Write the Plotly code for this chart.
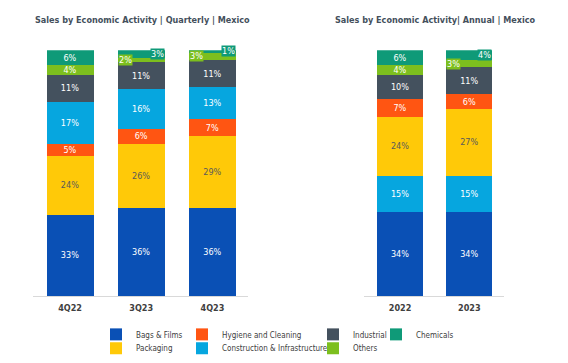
import plotly.graph_objects as go

# ---------------- data ----------------
quarters = ["4Q22", "3Q23", "4Q23"]
years = ["2022", "2023"]

q_bags = [33, 36, 36]
q_packaging = [24, 26, 29]
q_hygiene = [5, 6, 7]
q_construction = [17, 16, 13]
q_industrial = [11, 11, 11]
q_others = [4, 2, 3]
q_chemicals = [6, 3, 1]

y_bags = [34, 34]
y_construction = [15, 15]
y_packaging = [24, 27]
y_hygiene = [7, 6]
y_industrial = [10, 11]
y_others = [4, 3]
y_chemicals = [6, 4]

colors = {
    "Bags & Films": "#0A50B5",
    "Hygiene and Cleaning": "#FF5512",
    "Industrial": "#44515E",
    "Chemicals": "#0F9A78",
    "Packaging": "#FFC908",
    "Construction & Infrastructure": "#06A6DF",
    "Others": "#7DBF1E",
}
label_colors = {"Packaging": "#5a5a5a"}

# stacking order (bottom -> top)
left_stack = [("Bags & Films", q_bags), ("Packaging", q_packaging),
              ("Hygiene and Cleaning", q_hygiene), ("Construction & Infrastructure", q_construction),
              ("Industrial", q_industrial), ("Others", q_others), ("Chemicals", q_chemicals)]
right_stack = [("Bags & Films", y_bags), ("Construction & Infrastructure", y_construction),
               ("Packaging", y_packaging), ("Hygiene and Cleaning", y_hygiene),
               ("Industrial", y_industrial), ("Others", y_others), ("Chemicals", y_chemicals)]

W, H = 568, 363
FONT = "DejaVu Sans Condensed, DejaVu Sans"
# values below these get a boxed label at the bar edge instead of inside text
box_threshold = {"Chemicals": 5, "Others": 4}

legend_ids = {
    "Bags & Films": "legend", "Packaging": "legend2",
    "Hygiene and Cleaning": "legend3", "Construction & Infrastructure": "legend4",
    "Industrial": "legend5", "Others": "legend6", "Chemicals": "legend7",
}

fig = go.Figure()
annotations = []
BAR_HALF = 0.33


def add_panel(cats, stack, xaxis, yaxis, showlegend):
    cum = [0] * len(cats)
    for name, vals in stack:
        thr = box_threshold.get(name, 0)
        texts = [f"{v}%" if v >= thr else "" for v in vals]
        fig.add_trace(go.Bar(
            x=cats, y=vals, name=name, marker=dict(color=colors[name], line=dict(width=0)),
            text=texts, texttemplate="%{text}", textposition="inside",
            insidetextanchor="middle", textangle=0,
            textfont=dict(family=FONT, size=9, color=label_colors.get(name, "white")),
            xaxis=xaxis, yaxis=yaxis, showlegend=showlegend,
            legend=legend_ids[name], hoverinfo="skip",
        ))
        for i, v in enumerate(vals):
            if v < thr:
                mid = cum[i] + v / 2
                if name == "Chemicals":
                    ax, anchor = i + BAR_HALF, "right"
                else:
                    ax, anchor = i - BAR_HALF, "left"
                annotations.append(dict(
                    x=ax, y=mid, xref=xaxis, yref=yaxis, text=f"{v}%", showarrow=False,
                    xanchor=anchor, yanchor="middle", bgcolor=colors[name], borderpad=0,
                    font=dict(family=FONT, size=9, color="white"),
                ))
        cum = [c + v for c, v in zip(cum, vals)]


add_panel(quarters, left_stack, "x", "y", True)
add_panel(years, right_stack, "x2", "y2", False)

# titles
title_font = dict(family=FONT, size=9, color="#44505c", weight="bold")
annotations.append(dict(x=142 / W, y=1 - 20 / H, xref="paper", yref="paper",
                        xanchor="center", yanchor="middle",
                        text="Sales by Economic Activity | Quarterly | Mexico", showarrow=False,
                        font=title_font))
annotations.append(dict(x=435 / W, y=1 - 20 / H, xref="paper", yref="paper",
                        xanchor="center", yanchor="middle",
                        text="Sales by Economic Activity| Annual | Mexico", showarrow=False,
                        font=title_font))

ydom = [62 / H, 312 / H]
axis_common = dict(showline=True, linecolor="#d9d9d9", linewidth=1, ticks="",
                   ticklabelstandoff=3,
                   tickfont=dict(family=FONT, size=9, color="#404040", weight="bold"),
                   showgrid=False, zeroline=False, type="category")
yaxis_common = dict(range=[0, 100], visible=False, showgrid=False, zeroline=False)

layout = dict(
    width=W, height=H, margin=dict(l=0, r=0, t=0, b=0),
    paper_bgcolor="white", plot_bgcolor="white",
    barmode="stack", bargap=0.34,
    uniformtext=dict(minsize=9, mode="show"),
    xaxis=dict(domain=[33 / W, 248 / W], range=[-0.52, 2.5], anchor="y", **axis_common),
    xaxis2=dict(domain=[364 / W, 504 / W], range=[-0.52, 1.5], anchor="y2", **axis_common),
    yaxis=dict(domain=ydom, anchor="x", **yaxis_common),
    yaxis2=dict(domain=ydom, anchor="x2", **yaxis_common),
    annotations=annotations,
    font=dict(family=FONT),
)

# one small legend per entry so that the columns line up like the reference
legend_pos = {
    "legend": (136, 340), "legend2": (136, 354),
    "legend3": (222, 340), "legend4": (222, 354),
    "legend5": (353, 340), "legend6": (353, 354),
    "legend7": (416, 340),
}
for lid, (tx, ty) in legend_pos.items():
    layout[lid] = dict(
        x=(tx - 40) / W, y=1 - ty / H, xanchor="left", yanchor="middle",
        xref="paper", yref="paper", orientation="v",
        bgcolor="rgba(0,0,0,0)", borderwidth=0, itemwidth=30,
        font=dict(family=FONT, size=8, color="#404040"),
    )

fig.update_layout(**layout)
fig.write_html(
    "out.html", config={"displayModeBar": False},
    post_script=(
        "var s='margin:0;padding:0;overflow:hidden;height:%dpx;';"
        "document.documentElement.style.cssText+=s;document.body.style.cssText+=s;" % H
    ),
)
